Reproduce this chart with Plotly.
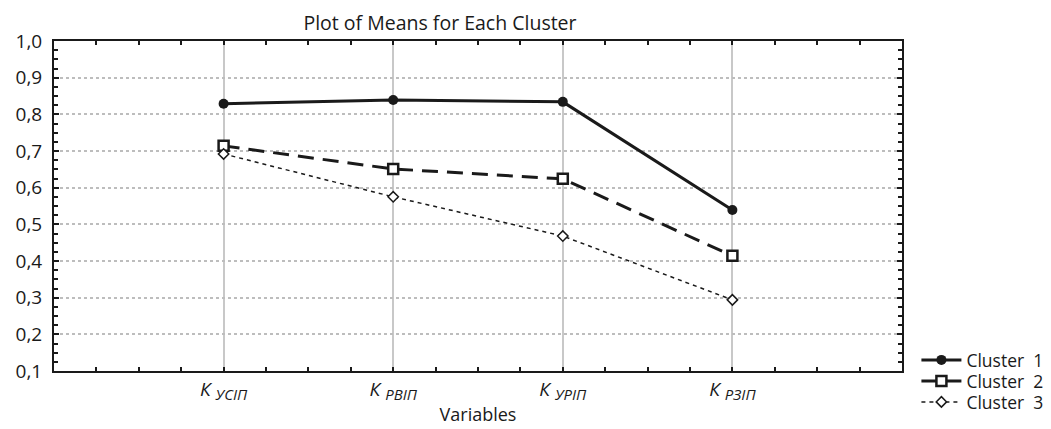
import plotly.graph_objects as go

SUB = "<i>К</i> <sub><span style='font-size:15px'><i>{}</i></span></sub>"
subscripts = ["УСІП", "РВІП", "УРІП", "РЗІП"]
categories = [SUB.format(s) for s in subscripts]
cat_pos = [0, 1, 2, 3]
cluster1 = [0.829, 0.839, 0.834, 0.539]
cluster2 = [0.714, 0.651, 0.624, 0.414]
cluster3 = [0.692, 0.575, 0.468, 0.294]
y_ticks = [0.1, 0.2, 0.3, 0.4, 0.5, 0.6, 0.7, 0.8, 0.9, 1.0]

FONT = "Open Sans"
INK = "#1a1a1a"
# the page body has an 8px margin; lay the figure out to compensate
OFF = 8
W, H = 1051 - OFF, 429 - OFF

fig = go.Figure()
fig.add_trace(go.Scatter(
    x=cat_pos, y=cluster1, name="Cluster  1", mode="lines+markers", legend="legend",
    line=dict(color=INK, width=3, dash="solid"),
    marker=dict(symbol="circle", size=10, color=INK),
))
fig.add_trace(go.Scatter(
    x=cat_pos, y=cluster2, name="Cluster  2", mode="lines+markers", legend="legend2",
    line=dict(color=INK, width=3, dash="16px,9px"),
    marker=dict(symbol="square", size=10, color="white", line=dict(color=INK, width=2.5)),
))
fig.add_trace(go.Scatter(
    x=cat_pos, y=cluster3, name="Cluster  3", mode="lines+markers", legend="legend3",
    line=dict(color=INK, width=1.5, dash="4px,4px"),
    marker=dict(symbol="diamond", size=8, color="white", line=dict(color=INK, width=1.5)),
))

def leg(ypix):
    return dict(x=1.017, xanchor="left", y=(371 - ypix) / 330, yanchor="middle",
                bgcolor="rgba(0,0,0,0)", font=dict(family=FONT, size=17.5, color=INK),
                itemwidth=40, borderwidth=0)

fig.update_layout(
    width=W, height=H,
    margin=dict(l=54 - OFF, r=149, t=41 - OFF, b=58, autoexpand=False),
    paper_bgcolor="white", plot_bgcolor="white",
    font=dict(family=FONT, size=16, color=INK),
    separators=", ",
    title=dict(text="Plot of Means for Each Cluster", x=(440 - OFF) / W, xanchor="center",
               xref="container", y=1 - (23 - OFF) / H, yanchor="middle", yref="container",
               font=dict(family=FONT, size=19.5, color=INK)),
    showlegend=True,
    legend=leg(360), legend2=leg(381), legend3=leg(402),
)
fig.update_xaxes(
    range=[-1, 4], tickmode="array", tickvals=cat_pos, ticktext=categories,
    automargin=False,
    showline=True, linecolor=INK, linewidth=2, mirror="allticks",
    ticks="inside", ticklen=4, tickwidth=2, tickcolor=INK,
    showgrid=True, gridcolor="#c8c8c8", gridwidth=2,
    zeroline=False,
    tickfont=dict(family=FONT, size=19, color=INK),
    minor=dict(dtick=0.25, tick0=0, ticks="inside", ticklen=4, tickwidth=2, tickcolor=INK, showgrid=False),
    title=dict(text="Variables", standoff=6, font=dict(family=FONT, size=18, color=INK)),
)
fig.update_yaxes(
    range=[0.1, 1.0], tickmode="array", tickvals=y_ticks, tickformat=".1f",
    automargin=False,
    showline=True, linecolor=INK, linewidth=2, mirror="allticks",
    ticks="inside", ticklen=5, tickwidth=2, tickcolor=INK,
    showgrid=True, gridcolor="#bdbdbd", gridwidth=1.5, griddash="dot",
    zeroline=False, ticklabelstandoff=6,
    tickfont=dict(family=FONT, size=19, color=INK),
    minor=dict(dtick=0.025, tick0=0.1, ticks="inside", ticklen=4, tickwidth=2, tickcolor=INK, showgrid=False),
)

fig.write_html("out.html")
